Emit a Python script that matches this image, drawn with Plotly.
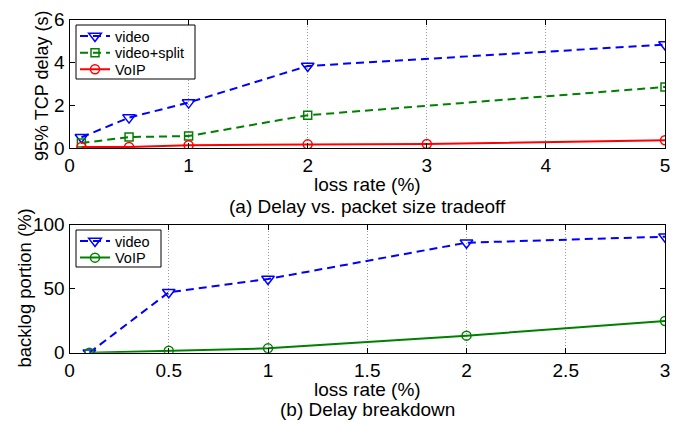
import plotly.graph_objects as go

# ---- data: panel (a) ----
a_video_x = [0.1, 0.5, 1, 2, 5]
a_video_y = [0.5, 1.42, 2.12, 3.83, 4.83]
a_split_x = [0.1, 0.5, 1, 2, 5]
a_split_y = [0.23, 0.51, 0.56, 1.53, 2.85]
a_voip_x = [0.1, 0.5, 1, 2, 3, 5]
a_voip_y = [0.05, 0.05, 0.13, 0.17, 0.19, 0.36]

# ---- data: panel (b) ----
b_video_x = [0.1, 0.5, 1, 2, 3]
b_video_y = [0.0, 47.1, 57.5, 85.8, 90.5]
b_voip_x = [0.1, 0.5, 1, 2, 3]
b_voip_y = [0.0, 1.6, 3.4, 13.3, 24.7]

a_xticks = [0, 1, 2, 3, 4, 5]
a_yticks = [0, 2, 4, 6]
b_xticks = [0, 0.5, 1, 1.5, 2, 2.5, 3]
b_xticklabels = ["0", "0.5", "1", "1.5", "2", "2.5", "3"]
b_yticks = [0, 50, 100]

BLUE = "#0000ff"
GREEN = "#008000"
RED = "#ff0000"
FONT = "Liberation Sans, Arial, sans-serif"
DASH = "8px,5px"

W, H = 686, 422
def px_x(p):
    return p / W
def px_y(p):
    return 1 - p / H

fig = go.Figure()

fig.add_trace(go.Scatter(x=a_video_x, y=a_video_y, name="video", mode="lines+markers",
                         line=dict(color=BLUE, width=2, dash=DASH),
                         marker=dict(symbol="triangle-down-open", size=11, color=BLUE, line=dict(width=1.5)),
                         xaxis="x", yaxis="y", legend="legend", showlegend=True))
fig.add_trace(go.Scatter(x=a_split_x, y=a_split_y, name="video+split", mode="lines+markers",
                         line=dict(color=GREEN, width=2, dash=DASH),
                         marker=dict(symbol="square-open", size=8, color=GREEN, line=dict(width=1.5)),
                         xaxis="x", yaxis="y", legend="legend3", showlegend=True))
fig.add_trace(go.Scatter(x=a_voip_x, y=a_voip_y, name="VoIP", mode="lines+markers",
                         line=dict(color=RED, width=2),
                         marker=dict(symbol="circle-open", size=9, color=RED, line=dict(width=1.5)),
                         xaxis="x", yaxis="y", legend="legend4", showlegend=True))

fig.add_trace(go.Scatter(x=b_video_x, y=b_video_y, name="video", mode="lines+markers",
                         line=dict(color=BLUE, width=2, dash=DASH),
                         marker=dict(symbol="triangle-down-open", size=11, color=BLUE, line=dict(width=1.5)),
                         xaxis="x2", yaxis="y2", legend="legend2", showlegend=True))
fig.add_trace(go.Scatter(x=b_voip_x, y=b_voip_y, name="VoIP", mode="lines+markers",
                         line=dict(color=GREEN, width=2),
                         marker=dict(symbol="circle-open", size=9, color=GREEN, line=dict(width=1.5)),
                         xaxis="x2", yaxis="y2", legend="legend5", showlegend=True))

xdom = [px_x(69.5), px_x(665)]
common_axis = dict(showline=True, linecolor="black", linewidth=1, mirror="ticks",
                   ticks="inside", ticklen=5, tickcolor="black", zeroline=False,
                   automargin=False,
                   tickfont=dict(size=19, color="black", family=FONT))

def leg(ypx):
    return dict(x=px_x(75), y=px_y(ypx), xanchor="left", yanchor="middle",
                bgcolor="rgba(0,0,0,0)", borderwidth=0,
                font=dict(size=14.5, family=FONT, color="black"))

fig.update_layout(
    width=W, height=H,
    showlegend=True,
    margin=dict(l=0, r=0, t=0, b=0, autoexpand=False),
    paper_bgcolor="white", plot_bgcolor="white",
    font=dict(family=FONT, color="black"),
    xaxis=dict(domain=xdom, range=[0, 5], tickvals=a_xticks, anchor="y",
               showgrid=True, gridcolor="#999999", griddash="1px,2px", gridwidth=1, **common_axis),
    yaxis=dict(domain=[px_y(148), px_y(19.5)], range=[0, 6], tickvals=a_yticks, anchor="x",
               showgrid=False, **common_axis),
    xaxis2=dict(domain=xdom, range=[0, 3], tickvals=b_xticks, ticktext=b_xticklabels, anchor="y2",
                showgrid=True, gridcolor="#999999", griddash="1px,2px", gridwidth=1, **common_axis),
    yaxis2=dict(domain=[px_y(352.7), px_y(224.5)], range=[0, 100], tickvals=b_yticks, anchor="x2",
                showgrid=False, **common_axis),
    legend=leg(36),
    legend3=leg(52.7),
    legend4=leg(69.3),
    legend2=leg(241),
    legend5=leg(257.7),
)

# legend frames
for (x0, y0, x1, y1) in [(76, 25, 195, 79), (76, 230, 161, 267)]:
    fig.add_shape(type="rect", xref="paper", yref="paper", layer="above",
                  x0=px_x(x0), x1=px_x(x1), y0=px_y(y1), y1=px_y(y0),
                  line=dict(color="black", width=1), fillcolor="white")

ann = [
    dict(text="95% TCP delay (s)", x=px_x(42), y=px_y(86), textangle=-90, size=18),
    dict(text="backlog portion (%)", x=px_x(25), y=px_y(288.6), textangle=-90, size=18.5),
    dict(text="loss rate (%)", x=px_x(367), y=px_y(185), size=19),
    dict(text="(a) Delay vs. packet size tradeoff", x=px_x(367), y=px_y(206), size=19),
    dict(text="loss rate (%)", x=px_x(367), y=px_y(389), size=19),
    dict(text="(b) Delay breakdown", x=px_x(367), y=px_y(409), size=19),
]
for a in ann:
    size = a.pop("size")
    fig.add_annotation(xref="paper", yref="paper", showarrow=False,
                       xanchor="center", yanchor="middle",
                       font=dict(size=size, family=FONT, color="black"), **a)

fig.write_html("out.html", config={"displayModeBar": False},
               post_script="document.body.style.margin='0';")
